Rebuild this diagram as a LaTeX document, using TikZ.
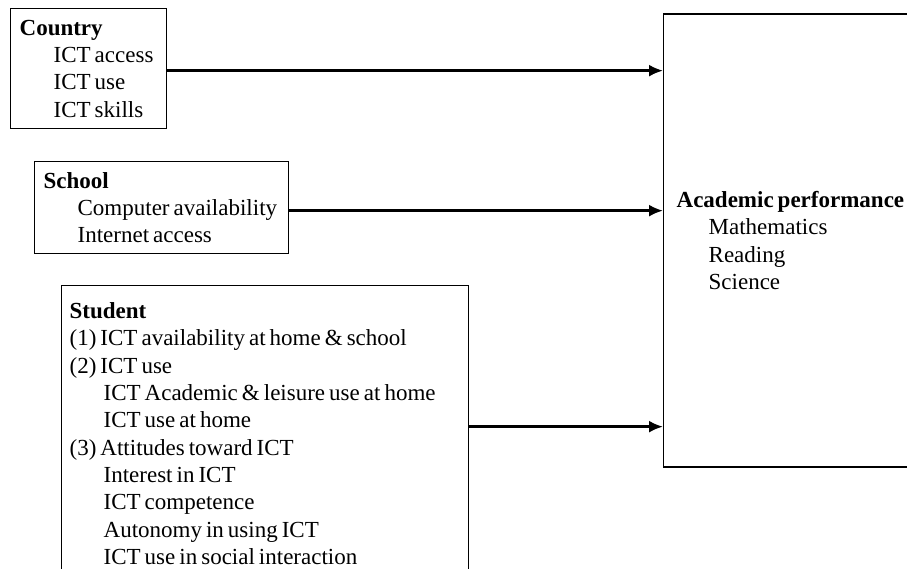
\documentclass[tikz,border=0pt]{standalone}
\usepackage{fontspec}
\setmainfont{Liberation Serif}[WordSpace=0.7]
\usetikzlibrary{arrows.meta}
\newcommand{\ind}{\hspace*{34pt}}

\begin{document}
\begin{tikzpicture}[x=1pt,y=-1pt,
    box/.style={draw,line width=1.3pt,align=flush left,inner ysep=0pt,
      font=\fontsize{23}{27.3}\selectfont},
    link/.style={line width=2.4pt,-{Latex[length=14pt,width=12pt]}}]
  \useasboundingbox (0,0) rectangle (907,569);
  \clip (0,0) rectangle (907,569);
  % the three sources of influence
  \node[box,anchor=north west,inner xsep=9pt,text width=138pt,minimum height=120pt]
    (country) at (10,8) {\textbf{Country}\\ \ind ICT access\\ \ind ICT use\\ \ind ICT skills};
  \node[box,anchor=north west,inner xsep=9pt,text width=236pt,minimum height=92pt]
    (school) at (34,161) {\textbf{School}\\ \ind Computer availability\\ \ind Internet access};
  \node[box,anchor=north west,inner xsep=8pt,text width=391pt,minimum height=296pt]
    (student) at (61,285) {\textbf{Student}\\
      (1) ICT availability at home \& school\\
      (2) ICT use\\
      \ind ICT Academic \& leisure use at home\\
      \ind ICT use at home\\
      (3) Attitudes toward ICT\\
      \ind Interest in ICT\\
      \ind ICT competence\\
      \ind Autonomy in using ICT\\
      \ind ICT use in social interaction};
  % outcome
  \node[box,anchor=west,inner xsep=13pt,text width=240pt,minimum height=453pt]
    (perf) at (663,240.5) {\textbf{Academic performance}\\ \hspace*{32pt}Mathematics\\
      \hspace*{32pt}Reading\\ \hspace*{32pt}Science};
  \path[link]
    ([yshift=-2pt]country.east) edge ([yshift=-2pt]country.east -| perf.west)
    ([yshift=-3pt]school.east) edge ([yshift=-3pt]school.east -| perf.west)
    ([yshift=7pt]student.east) edge ([yshift=7pt]student.east -| perf.west);
\end{tikzpicture}
\end{document}
